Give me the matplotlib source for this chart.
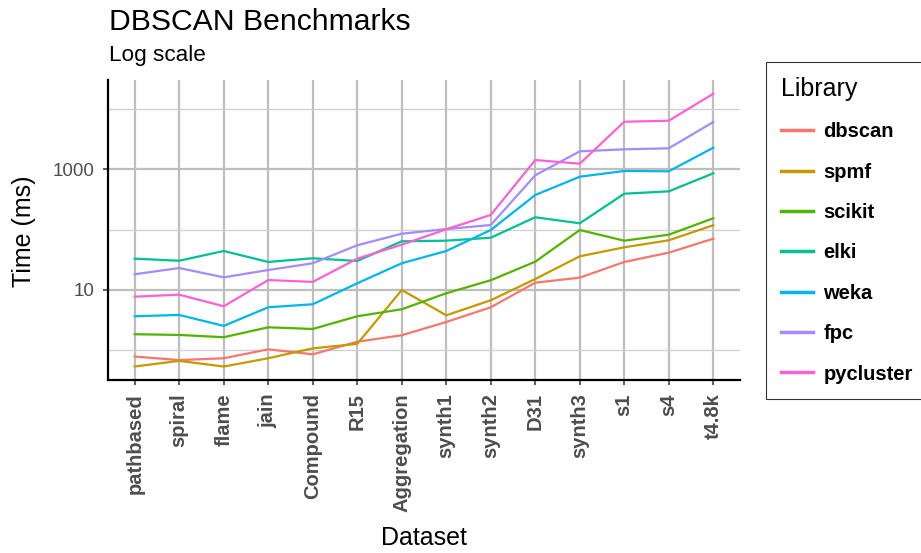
import matplotlib
matplotlib.use("Agg")
import matplotlib.pyplot as plt
from matplotlib.ticker import FixedLocator, NullFormatter

plt.rcParams['font.family'] = ['Liberation Sans', 'DejaVu Sans']

datasets = ["pathbased", "spiral", "flame", "jain", "Compound", "R15", "Aggregation",
            "synth1", "synth2", "D31", "synth3", "s1", "s4", "t4.8k"]

libraries = ["dbscan", "spmf", "scikit", "elki", "weka", "fpc", "pycluster"]

# times in ms
dbscan = [0.79, 0.69, 0.74, 1.04, 0.86, 1.39, 1.78, 2.95, 5.17, 13.2, 16.0, 29.1, 41.5, 70.6]
spmf = [0.54, 0.67, 0.54, 0.74, 1.08, 1.28, 10.0, 3.81, 6.75, 15.2, 36.1, 50.9, 66.5, 118]
scikit = [1.85, 1.80, 1.65, 2.41, 2.26, 3.67, 4.79, 8.82, 14.5, 29.4, 98.4, 65.5, 82.3, 154]
elki = [33.0, 30.5, 44.2, 29.1, 33.5, 30.2, 64.0, 65.5, 73.4, 160, 127, 393, 430, 855]
weka = [3.67, 3.86, 2.54, 5.17, 5.80, 12.9, 27.7, 44.2, 98.4, 374, 751, 934, 923, 2270]
fpc = [18.2, 23.1, 16.2, 21.4, 27.7, 55.0, 85.5, 102, 119, 793, 1978, 2133, 2218, 6040]
pycluster = [7.74, 8.36, 5.37, 14.6, 13.6, 33.0, 56.2, 101, 175, 1419, 1233, 6110, 6350, 17780]

series = [dbscan, spmf, scikit, elki, weka, fpc, pycluster]
colors = ["#F8766D", "#C49A00", "#53B400", "#00C094", "#00B6EB", "#A58AFF", "#FB61D7"]

fig = plt.figure(figsize=(9.21, 5.53), dpi=100)
ax = fig.add_axes([108 / 921, 1 - 380 / 553, 632 / 921, 300 / 553])

x = list(range(len(datasets)))
for name, vals, col in zip(libraries, series, colors):
    ax.plot(x, vals, color=col, lw=1.6, label=name)

ax.set_yscale("log")
ax.set_ylim(0.323, 30000)
ax.set_xlim(-0.6, len(datasets) - 0.4)

ax.set_yticks([10, 1000])
ax.set_yticklabels(["10", "1000"])
ax.yaxis.set_minor_locator(FixedLocator([1, 100, 10000]))
ax.yaxis.set_minor_formatter(NullFormatter())
ax.set_xticks(x)
ax.set_xticklabels(datasets, rotation=90, fontweight="bold")

ax.tick_params(axis="both", which="major", length=3.5, width=1.1, color="#333333",
               labelcolor="#4D4D4D", pad=6)
ax.tick_params(axis="x", labelsize=14.5)
ax.tick_params(axis="y", labelsize=13.5)
ax.tick_params(axis="y", which="minor", length=0)

ax.set_axisbelow(True)
ax.grid(which="major", axis="both", color="#BEBEBE", lw=1.6)
ax.grid(which="minor", axis="y", color="#CFCFCF", lw=0.9)

for side in ["top", "right"]:
    ax.spines[side].set_visible(False)
for side in ["left", "bottom"]:
    ax.spines[side].set_linewidth(1.6)
    ax.spines[side].set_color("black")

fig.text(109 / 921, 1 - 30 / 553, "DBSCAN Benchmarks", fontsize=21.7, ha="left", va="baseline")
fig.text(109 / 921, 1 - 60.5 / 553, "Log scale", fontsize=16.2, ha="left", va="baseline")
fig.text(24 / 921, 1 - 231 / 553, "Time (ms)", fontsize=18, rotation=90, ha="center", va="center")
fig.text(424 / 921, 1 - 538 / 553, "Dataset", fontsize=18, ha="center", va="center")

leg = ax.legend(loc="upper left", bbox_to_anchor=(766 / 921, 1 - 62 / 553),
                bbox_transform=fig.transFigure, title="Library", title_fontsize=18,
                prop={"weight": "bold", "size": 14.5}, frameon=True, fancybox=False,
                edgecolor="black", handlelength=1.6, handletextpad=0.5,
                labelspacing=1.06, borderpad=0.75, alignment="left", borderaxespad=0)
leg.get_frame().set_linewidth(0.8)
for line in leg.get_lines():
    line.set_linewidth(2.5)

fig.savefig("out.png", dpi=100)
